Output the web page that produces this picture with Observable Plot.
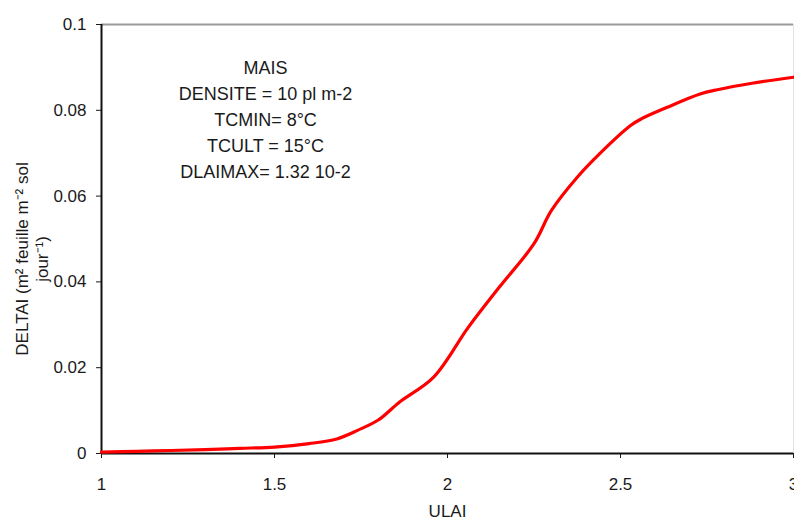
<!DOCTYPE html>
<html>
<head>
<meta charset="utf-8">
<script src="https://cdn.jsdelivr.net/npm/d3@7"></script>
<script src="https://cdn.jsdelivr.net/npm/@observablehq/plot@0.6"></script>
<style>
  html, body { margin: 0; padding: 0; background: #fff; }
  #chart svg { display: block; }
</style>
</head>
<body>
<div id="chart"></div>
<script>
// Leaf area index increment (DELTAI) as a function of ULAI, maize
const ulai = [1.0, 1.1, 1.2, 1.3, 1.4, 1.5, 1.6, 1.68, 1.74, 1.8, 1.86, 1.96, 2.06, 2.15, 2.25, 2.30, 2.375, 2.44, 2.53, 2.56, 2.635, 2.73, 2.78, 2.88, 3.0];
const deltai = [0.0003, 0.0005, 0.0007, 0.0009, 0.0012, 0.0015, 0.0023, 0.0034, 0.0054, 0.0078, 0.0119, 0.0178, 0.0294, 0.0388, 0.0489, 0.0566, 0.0644, 0.0699, 0.0765, 0.0780, 0.0807, 0.0838, 0.0848, 0.0863, 0.0877];

const xTicks = [1, 1.5, 2, 2.5, 3];
const yTicks = [0, 0.02, 0.04, 0.06, 0.08, 0.1];

const annotationLines = ["MAIS", "DENSITE = 10 pl m-2", "TCMIN= 8°C", "TCULT = 15°C", "DLAIMAX= 1.32 10-2"];
const xLabel = "ULAI";
const yLabelLines = ["DELTAI (m² feuille m⁻² sol", "jour⁻¹)"];

const curve = ulai.map((x, i) => ({x, y: deltai[i]}));

const chart = Plot.plot({
  width: 794,
  height: 527,
  marginLeft: 101,
  marginRight: 1,
  marginTop: 24,
  marginBottom: 74,
  style: {fontFamily: "'Liberation Sans', Arial, sans-serif", background: "#fff"},
  x: {domain: [1, 3]},
  y: {domain: [0, 0.1]},
  marks: [
    Plot.frame({stroke: "#e2e2e2"}),
    Plot.ruleY([0.1], {stroke: "#9a9a9a", strokeWidth: 2}),
    Plot.axisX({ticks: xTicks, tickSize: 5, tickPadding: 19, fontSize: 17, color: "#1a1a1a", tickFormat: d => String(d), label: null}),
    Plot.axisY({ticks: yTicks, tickSize: 5, tickPadding: 10, fontSize: 17, color: "#1a1a1a", tickFormat: d => String(d), label: null}),
    Plot.ruleX([1], {stroke: "#111", strokeWidth: 2}),
    Plot.ruleY([0], {stroke: "#111", strokeWidth: 2}),
    Plot.line(curve, {x: "x", y: "y", stroke: "#ff0000", strokeWidth: 3.2, curve: "catmull-rom"}),
    Plot.text([annotationLines.join("\n")], {
      frameAnchor: "top-left", dx: 164, dy: 31,
      textAnchor: "middle", lineAnchor: "top", lineHeight: 1.45,
      fontSize: 18, fill: "#1a1a1a"
    }),
    Plot.text([xLabel], {frameAnchor: "bottom", dy: 63, fontSize: 17, fill: "#1a1a1a"}),
    Plot.text([yLabelLines.join("\n")], {
      frameAnchor: "left", dx: -70, dy: 20, rotate: -90,
      textAnchor: "middle", lineAnchor: "middle", lineHeight: 1.2,
      fontSize: 17, fill: "#1a1a1a"
    })
  ]
});

document.getElementById("chart").appendChild(chart);
</script>
</body>
</html>
